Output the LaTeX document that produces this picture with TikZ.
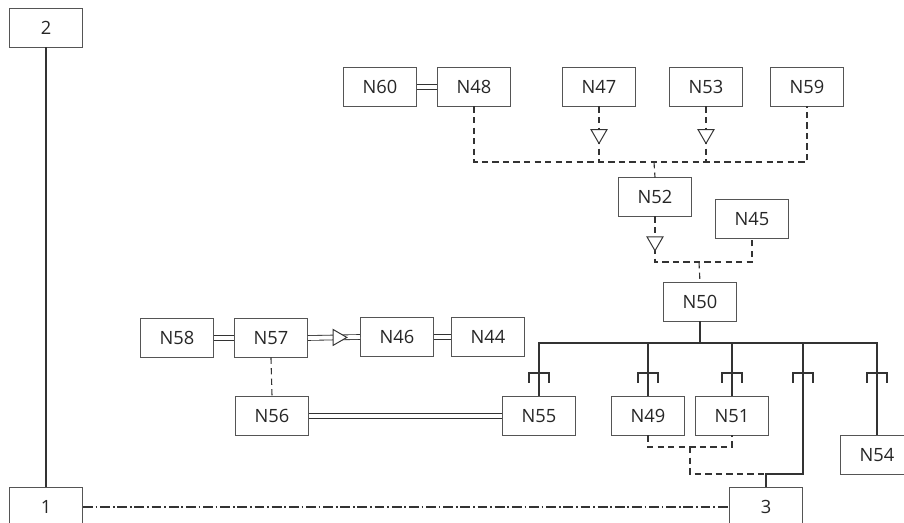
\documentclass[tikz,border=0pt]{standalone}
\usepackage{fontspec}
\setmainfont{Open Sans}
\usetikzlibrary{shapes.geometric,positioning,calc}
\definecolor{boxgray}{HTML}{555555}
\definecolor{linegray}{HTML}{333333}

\begin{document}
\begin{tikzpicture}[x=0.025cm,y=-0.025cm,
  box/.style={draw=boxgray,line width=0.7pt,minimum width=1.825cm,minimum height=0.95cm,inner sep=0pt,font=\fontsize{13}{15}\selectfont,text=black!85},
  link/.style={draw=linegray,line width=0.8pt},
  dlink/.style={draw=linegray,double,double distance=2.8pt,line width=0.6pt},
  dashlink/.style={draw=linegray,line width=0.8pt,dash pattern=on 4.5pt off 3pt},
  dashdot/.style={draw=linegray,line width=0.8pt,dash pattern=on 7pt off 2pt on 1.2pt off 2pt},
  tridown/.style={regular polygon,regular polygon sides=3,shape border rotate=180,draw=linegray,fill=white,solid,line width=0.7pt,inner sep=0pt,outer sep=0pt,minimum size=0.46cm},
  triright/.style={tridown,shape border rotate=-90}]
\useasboundingbox (0,0) rectangle (904,523);

\node[box] (B2) at (46,28) {2};
\node[box] (B1) at (46,507) {1};
\node[box] (B3) at (766,507) {3};

\node[box] (N60) at (380,87) {N60};
\node[box] (N48) at (474,87) {N48};
\node[box] (N47) at (599,87) {N47};
\node[box] (N53) at (706,87) {N53};
\node[box] (N59) at (807,87) {N59};
\node[box] (N52) at (655,197) {N52};
\node[box] (N45) at (752,219) {N45};
\node[box] (N50) at (700,302) {N50};

\node[box] (N58) at (177,338) {N58};
\node[box] (N57) at (271,338) {N57};
\node[box] (N46) at (397,337) {N46};
\node[box] (N44) at (488,337) {N44};
\node[box] (N56) at (272,416) {N56};
\node[box] (N55) at (539,416) {N55};
\node[box] (N49) at (648,416) {N49};
\node[box] (N51) at (732,416) {N51};
\node[box] (N54) at (877,455) {N54};

\coordinate (busA) at (654,162);
\coordinate (busB) at (699,262);
\coordinate (busC) at (700,343);
\coordinate (d3) at (803,343);
\coordinate (c3) at (766,474);
\coordinate (j49) at (690,447);

% left line and the dash-dot link
\draw[link] (B2.south) -- (B1.north);
\draw[dashdot] (B1.east) -- (B3.west);

% upper dashed tree
\draw[dashlink] (N48.south) |- (busA) -| (N59.south);
\draw[dashlink] (N47.south) -- (N47.south |- busA);
\draw[dashlink] (N53.south) -- (N53.south |- busA);
\draw[dashlink] (busA) -- (N52.north);
\path (N47.south) -- node[pos=0.5,tridown] {} (N47.south |- busA);
\path (N53.south) -- node[pos=0.5,tridown] {} (N53.south |- busA);
\draw[dashlink] (N52.south) |- (busB) -| (N45.south);
\draw[dashlink] (busB) -- (N50.north);
\path (N52.south) -- node[pos=0.55,tridown] {} (N52.south |- busB);
\draw[dlink] (N60.east) -- (N48.west);

% left group
\draw[dlink] (N58.east) -- (N57.west);
\draw[dlink] (N57.east) -- (N46.west);
\path (N57.east) -- node[pos=0.57,triright] {} (N46.west);
\draw[dlink] (N46.east) -- (N44.west);
\draw[dashlink] (N57.south) -- (N56.north);
\draw[dlink] (N56.east) -- (N55.west);

% bus under N50
\draw[link] (N50.south) -- (busC);
\draw[link] (N55.north) -- (N55.north |- busC) -- (N54.north |- busC) -- (N54.north);
\draw[link] (N49.north) -- (N49.north |- busC);
\draw[link] (N51.north) -- (N51.north |- busC);
\draw[link] (d3) |- (c3) -- (B3.north);
\foreach \x in {539,648,732,803,877}
  \draw[link] (\x-10,383) -- (\x-10,373) -- (\x+10,373) -- (\x+10,383);

% dashed link to 3
\draw[dashlink] (N49.south) |- (j49) -| (N51.south);
\draw[dashlink] (j49) |- (c3);
\end{tikzpicture}
\end{document}
